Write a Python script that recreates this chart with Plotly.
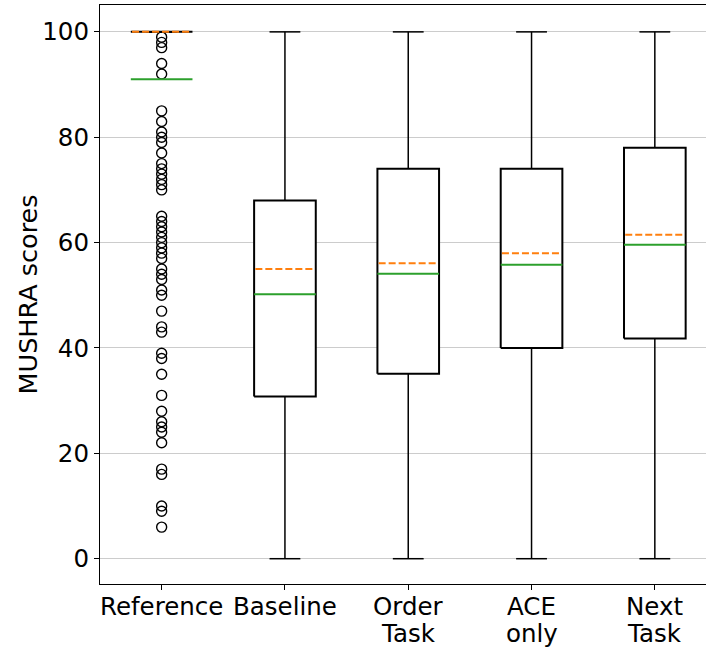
import plotly.graph_objects as go

# MUSHRA listening-test results per system
categories = ["Reference", "Baseline", "Order<br>Task", "ACE<br>only", "Next<br>Task"]
q1 = [100, 30.8, 35.1, 40.0, 41.8]
q3 = [100, 68.0, 74.0, 74.0, 78.0]
medians = [100, 55.0, 56.1, 58.0, 61.5]
means = [91.0, 50.2, 54.1, 55.8, 59.6]
whisker_lo = [100, 0, 0, 0, 0]
whisker_hi = [100, 100, 100, 100, 100]
reference_outliers = [99, 98, 97, 94, 92, 85, 83, 81, 80, 79, 77, 75, 74, 73, 72,
                      71, 70, 65, 64, 63, 62, 61, 60, 59, 58, 57, 55, 54, 53, 51,
                      50, 47, 44, 43, 39, 38, 35, 31, 28, 26, 25, 24, 22, 17, 16,
                      10, 9, 6]

BOX_HALF = 0.25
CAP_HALF = 0.125
ORANGE = "#ff7f0e"
GREEN = "#2ca02c"

fig = go.Figure()

for i, name in enumerate(categories):
    pos = i + 1
    # whiskers and caps
    for lo, hi in ((whisker_lo[i], q1[i]), (q3[i], whisker_hi[i])):
        fig.add_trace(go.Scatter(x=[pos, pos], y=[lo, hi], mode="lines",
                                 line=dict(color="black", width=1.5),
                                 hoverinfo="skip", showlegend=False))
    for w in (whisker_lo[i], whisker_hi[i]):
        fig.add_trace(go.Scatter(x=[pos - CAP_HALF, pos + CAP_HALF], y=[w, w], mode="lines",
                                 line=dict(color="black", width=1.5),
                                 hoverinfo="skip", showlegend=False))
    # box body
    fig.add_trace(go.Scatter(
        x=[pos - BOX_HALF, pos + BOX_HALF, pos + BOX_HALF, pos - BOX_HALF, pos - BOX_HALF],
        y=[q1[i], q1[i], q3[i], q3[i], q1[i]],
        mode="lines", fill="toself", fillcolor="white",
        line=dict(color="black", width=2),
        hoverinfo="skip", showlegend=False))

# outliers of the hidden reference
fig.add_trace(go.Scatter(x=[1] * len(reference_outliers), y=reference_outliers,
                         mode="markers",
                         marker=dict(symbol="circle-open", size=10,
                                     color="black", line=dict(width=1.4)),
                         hoverinfo="y", showlegend=False))

for i in range(len(categories)):
    pos = i + 1
    # mean (solid green) and median (dashed orange)
    fig.add_trace(go.Scatter(x=[pos - BOX_HALF, pos + BOX_HALF], y=[means[i], means[i]],
                             mode="lines", line=dict(color=GREEN, width=2),
                             hoverinfo="skip", showlegend=False))
    fig.add_trace(go.Scatter(x=[pos - BOX_HALF + 0.01, pos + BOX_HALF - 0.01],
                             y=[medians[i], medians[i]],
                             mode="lines", line=dict(color=ORANGE, width=2, dash="7px,3px"),
                             hoverinfo="skip", showlegend=False))

tick_font = dict(family="DejaVu Sans", size=24.5, color="black")
title_font = dict(family="DejaVu Sans", size=25.5, color="black")

# category labels below the axis, with compact line spacing
for i, label in enumerate(categories):
    for k, line in enumerate(label.split("<br>")):
        fig.add_annotation(x=i + 1, xref="x", y=0, yref="paper",
                           text=line, showarrow=False, font=tick_font,
                           xanchor="center", yanchor="middle", borderpad=0,
                           yshift=-22 - 27 * k)

# y-axis title
fig.add_annotation(x=0, xref="paper", xshift=-73, y=0.5, yref="paper",
                   text="MUSHRA scores", textangle=-90, showarrow=False,
                   font=title_font, xanchor="center", yanchor="middle")

fig.update_layout(
    width=706, height=647,
    margin=dict(l=100, r=0, t=5, b=63),
    paper_bgcolor="white", plot_bgcolor="white",
    font=tick_font,
    xaxis=dict(range=[0.5, 5.415], tickmode="array", automargin=False,
               tickvals=list(range(1, len(categories) + 1)),
               ticktext=[""] * len(categories),
               showgrid=False, zeroline=False,
               showline=True, mirror=True, linecolor="black", linewidth=1.2,
               ticks="outside", ticklen=5, tickcolor="black", tickwidth=1.2),
    yaxis=dict(range=[-4.8, 105.1], tickvals=[0, 20, 40, 60, 80, 100], automargin=False,
               showgrid=True, gridcolor="#cccccc", gridwidth=1, zeroline=False,
               showline=True, mirror=False, linecolor="black", linewidth=1.2,
               ticks="outside", ticklen=5, tickcolor="black", tickwidth=1.2,
               tickfont=tick_font),
)

fig.write_html("out.html")
